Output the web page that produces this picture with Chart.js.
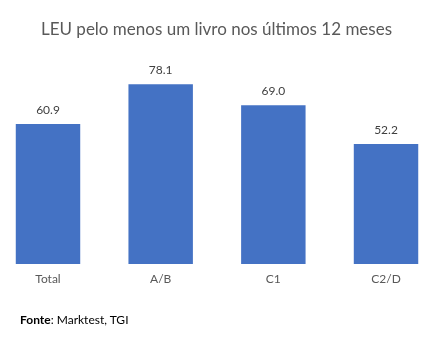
<!DOCTYPE html>
<html>
<head>
<meta charset="utf-8">
<script src="https://cdn.jsdelivr.net/npm/chart.js@4"></script>
<style>
  html, body { margin: 0; padding: 0; background: #fff; }
  #wrap { position: relative; width: 433px; height: 345px; overflow: hidden; }
  #title { position: absolute; left: 0; top: 18px; width: 433px; text-align: center;
           font: 17px Lato, sans-serif; color: #595959; white-space: nowrap; }
  #fonte { position: absolute; left: 20px; top: 312px; font: 12px Lato, sans-serif; color: #000; }
  canvas { position: absolute; left: 0; top: 0; }
</style>
</head>
<body>
<div id="wrap">
  <canvas id="c" width="433" height="345"></canvas>
  <div id="title">LEU pelo menos um livro nos últimos 12 meses</div>
  <div id="fonte"><b>Fonte</b>: Marktest, TGI</div>
</div>
<script>
const categories = ['Total', 'A/B', 'C1', 'C2/D'];
const values = [60.9, 78.1, 69.0, 52.2];

const barLabels = {
  id: 'barLabels',
  afterDatasetsDraw(chart) {
    const ctx = chart.ctx;
    const meta = chart.getDatasetMeta(0);
    ctx.save();
    ctx.font = '12px Lato, sans-serif';
    ctx.fillStyle = '#404040';
    ctx.textAlign = 'center';
    ctx.textBaseline = 'middle';
    meta.data.forEach((bar, i) => {
      ctx.fillText(values[i].toFixed(1), bar.x, bar.y - 14);
    });
    ctx.restore();
  }
};

new Chart(document.getElementById('c'), {
  type: 'bar',
  data: {
    datasets: [{
      data: values.map((v, i) => ({ x: i, y: v })),
      backgroundColor: '#4472C4',
      barPercentage: 0.572,
      categoryPercentage: 1
    }]
  },
  options: {
    responsive: false,
    animation: false,
    layout: { padding: { top: 34, left: 0, right: 0, bottom: 0 } },
    plugins: { legend: { display: false }, tooltip: { enabled: false } },
    scales: {
      x: {
        type: 'linear',
        offset: false,
        min: -0.426,
        max: 3.417,
        grid: { display: false, offset: false },
        border: { display: false },
        afterBuildTicks(scale) {
          scale.ticks = categories.map((_, i) => ({ value: i }));
        },
        afterFit(scale) { scale.height = 81; },
        ticks: {
          padding: 0,
          color: '#595959',
          font: { family: 'Lato, sans-serif', size: 12 },
          callback: (v) => categories[v] ?? ''
        }
      },
      y: {
        display: false,
        min: 0,
        max: 100
      }
    }
  },
  plugins: [barLabels]
});
</script>
</body>
</html>
